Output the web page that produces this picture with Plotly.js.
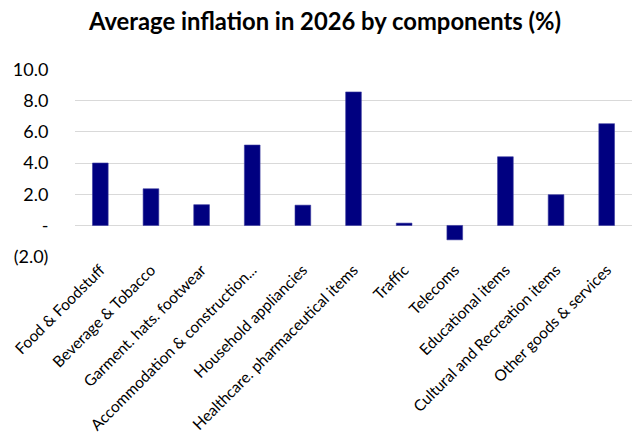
<!DOCTYPE html>
<html>
<head>
<meta charset="utf-8">
<script src="https://cdn.plot.ly/plotly-3.0.1.min.js"></script>
<style>html,body{margin:0;padding:0;background:#fff;}#chart{width:633px;height:434px;}</style>
</head>
<body>
<div id="chart"></div>
<script>
const categories = [
  "Food & Foodstuff",
  "Beverage & Tobacco",
  "Garment. hats. footwear",
  "Accommodation & construction...",
  "Household appliancies",
  "Healthcare. pharmaceutical items",
  "Traffic",
  "Telecoms",
  "Educational items",
  "Cultural and Recreation items",
  "Other goods & services"
];
const values = [4.0, 2.35, 1.33, 5.15, 1.3, 8.55, 0.15, -0.92, 4.4, 1.97, 6.52];
const yTickVals = [10, 8, 6, 4, 2, 0, -2];
const yTickText = ["10.0", "8.0", "6.0", "4.0", "2.0", "-", "(2.0)"];

const trace = {
  type: "bar",
  x: categories,
  y: values,
  marker: {color: "#000080", line: {color: "#3a3aa0", width: 0.6}},
  hoverinfo: "x+y"
};

const layout = {
  width: 633,
  height: 434,
  paper_bgcolor: "#ffffff",
  plot_bgcolor: "#ffffff",
  font: {family: "Lato, 'Open Sans', sans-serif", color: "#000000"},
  title: {
    text: "<b>Average inflation in 2026 by components (%)</b>",
    font: {size: 23.8, family: "Lato, 'Open Sans', sans-serif", color: "#000000"},
    x: 325/633, xref: "container", xanchor: "center",
    y: 1 - 22/434, yref: "container", yanchor: "middle"
  },
  margin: {l: 75, r: 1, t: 69, b: 177, pad: 0},
  bargap: 0.69,
  showlegend: false,
  xaxis: {
    tickangle: -45,
    tickfont: {size: 15.5, color: "#000000"},
    showgrid: false,
    showline: false,
    ticks: "",
    automargin: false
  },
  yaxis: {
    range: [-2.02, 10.02],
    tickvals: yTickVals,
    ticktext: yTickText,
    tickfont: {size: 18, color: "#000000"},
    showgrid: true,
    gridcolor: "#d9d9d9",
    gridwidth: 1,
    zeroline: true,
    zerolinecolor: "#d9d9d9",
    zerolinewidth: 1.5,
    showline: false,
    ticks: "outside",
    ticklen: 0,
    ticklabelstandoff: 22,
    automargin: false
  }
};

Plotly.newPlot("chart", [trace], layout, {displayModeBar: false, staticPlot: true});
</script>
</body>
</html>
